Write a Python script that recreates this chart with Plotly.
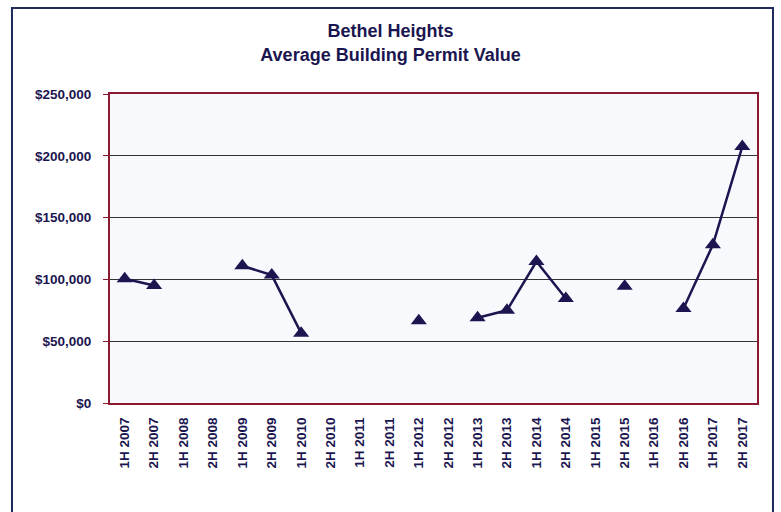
import plotly.graph_objects as go

periods = ["1H 2007", "2H 2007", "1H 2008", "2H 2008", "1H 2009", "2H 2009",
           "1H 2010", "2H 2010", "1H 2011", "2H 2011", "1H 2012", "2H 2012",
           "1H 2013", "2H 2013", "1H 2014", "2H 2014", "1H 2015", "2H 2015",
           "1H 2016", "2H 2016", "1H 2017", "2H 2017"]
avg_value = [100500, 95000, None, None, 111000, 103500,
             56500, None, None, None, 66500, None,
             69000, 75000, 114500, 84500, None, 94500,
             None, 76500, 128000, 207500]

y_ticks = [0, 50000, 100000, 150000, 200000, 250000]
y_labels = ["$0", "$50,000", "$100,000", "$150,000", "$200,000", "$250,000"]

navy = "#1b1650"
font_fam = "Liberation Sans, Arial, sans-serif"

fig = go.Figure()
fig.add_trace(go.Scatter(x=periods,
                         y=avg_value,
                         mode="lines+markers",
                         connectgaps=False,
                         line=dict(color=navy, width=2.5),
                         marker=dict(symbol="triangle-up", size=14, color=navy),
                         showlegend=False))

# outer chart border
fig.add_shape(type="rect", xref="paper", yref="paper",
              x0=-0.1515, x1=1.0247, y0=-0.40, y1=1.278,
              line=dict(color="#1f2a5c", width=2), layer="below")

fig.update_layout(
    width=781, height=512,
    paper_bgcolor="white",
    plot_bgcolor="#f7f9fd",
    margin=dict(l=110, r=24, t=94, b=109),
    font=dict(family=font_fam, color=navy),
    title=dict(text="<b>Bethel Heights<br>Average Building Permit Value</b>",
               x=0.5, xref="container", xanchor="center",
               y=0.927, yref="container", yanchor="middle",
               font=dict(size=18, color=navy, family=font_fam)),
    xaxis=dict(type="category", tickangle=-90, range=[-0.5, len(periods) - 0.5],
               tickfont=dict(size=13.5, color=navy, family=font_fam, weight="bold"),
               showgrid=False, showline=True, linecolor="#8b1a30",
               linewidth=2, mirror=True, ticks="", ticklabelstandoff=7),
    yaxis=dict(range=[0, 250000], tickvals=y_ticks, ticktext=y_labels,
               tickfont=dict(size=13.5, color=navy, family=font_fam, weight="bold"),
               showgrid=True, gridcolor="#333333", gridwidth=1,
               showline=True, linecolor="#8b1a30", linewidth=2, mirror=True,
               ticks="outside", ticklen=5, tickcolor="#8b1a30",
               ticklabelstandoff=9, zeroline=False),
)

fig.write_html("out.html", config={"displayModeBar": False})

# drop the default body margin so the figure sits at the window's corner
with open("out.html", encoding="utf-8") as f:
    html = f.read()
html = html.replace("<body>", '<body style="margin:0">', 1)
with open("out.html", "w", encoding="utf-8") as f:
    f.write(html)
